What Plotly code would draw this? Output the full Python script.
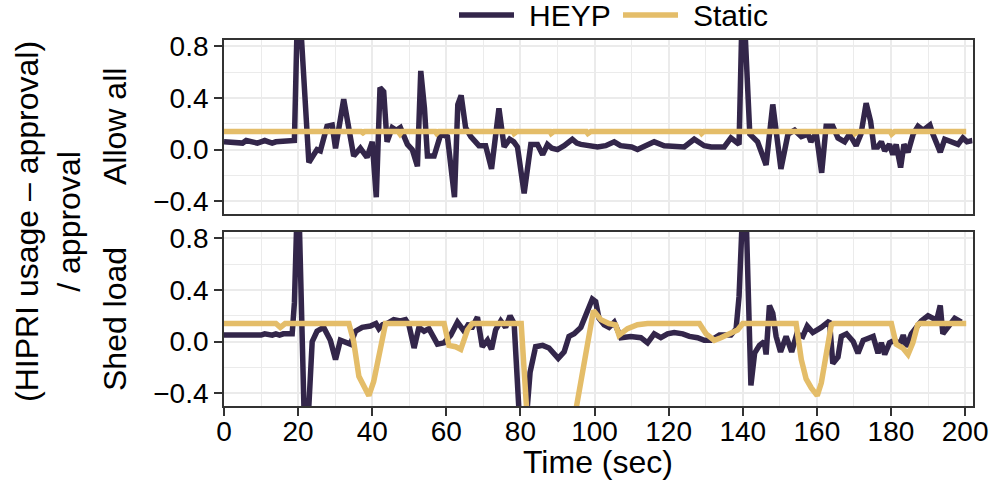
import plotly.graph_objects as go

# ---- data -------------------------------------------------------------
# "Allow all" facet
allow_heyp_t = [0, 1, 2, 3, 4, 5, 6, 7, 8, 9, 10, 11, 12, 13, 14, 15, 16, 17, 18, 19,
                20, 22.9, 24, 25.1, 26, 27.8, 29.2, 30.1, 32.3, 35, 36.8, 38.6, 40,
                41.1, 42.1, 43.1, 44, 45.4, 46.5, 47.6, 49.5, 50.8, 52.2, 53.1, 54.1,
                54.9, 56.7, 58.5, 60.3, 62.2, 63.1, 64, 65.2, 66.6, 68.8, 70.6, 72.2,
                74.2, 75.6, 77.1, 78.2, 79.2, 81, 82.8, 84.6, 86, 87.3, 88.5, 90,
                91.8, 94, 95.2, 96.3, 98, 100.8, 103, 105.3, 107, 108.9, 110, 111.6,
                113.5, 116.1, 118.8, 121, 124.2, 126.9, 129.6, 131.5, 133.2, 135,
                136.8, 138.6, 139, 140, 141.9, 144, 146.3, 148.1, 149, 150.3, 152.2,
                154, 155.8, 157.6, 158.4, 159.8, 161.3, 162.5, 164.3, 165.7, 167.5,
                168.8, 170.6, 171.9, 173.3, 174.5, 175.4, 176.4, 177.4, 178.3, 179.6,
                180.5, 181.4, 182.6, 183.5, 184.6, 186, 187.3, 188.7, 190.5, 191.3,
                191.8, 193.3, 194.5, 196.3, 198.1, 199.4, 200.5, 202]
allow_heyp_v = [0.06, 0.06, 0.05, 0.06, 0.06, 0.05, 0.07, 0.06, 0.06, 0.05, 0.06, 0.07,
                0.06, 0.05, 0.06, 0.06, 0.06, 0.06, 0.07, 0.07,
                1.30, -0.10, -0.05, 0.00, -0.01, 0.18, 0.19, 0.01, 0.39, -0.05, 0.01,
                -0.06, 0.06, -0.37, 0.48, 0.45, 0.06, 0.17, 0.15, 0.17, 0.04, 0.00,
                -0.13, 0.61, 0.32, -0.05, -0.05, 0.12, 0.10, -0.37, 0.35, 0.42, 0.17,
                0.10, 0.03, 0.03, -0.15, 0.32, 0.02, 0.08, 0.06, 0.02, -0.34, 0.04,
                0.04, -0.04, 0.04, 0.01, 0.00, 0.03, 0.08, 0.05, 0.04, 0.03, 0.02,
                0.03, 0.06, 0.03, 0.03, 0.02, 0.00, 0.03, 0.06, 0.03, 0.03, 0.02,
                0.08, 0.03, 0.02, 0.02, 0.02, 0.09, 0.05, 0.04, 1.30, 0.12, 0.06,
                -0.12, 0.35, 0.17, -0.15, 0.12, 0.15, 0.10, 0.12, 0.06, 0.13, -0.18,
                0.18, 0.18, 0.09, 0.06, 0.12, 0.03, 0.12, 0.36, 0.22, 0.02, 0.02,
                0.06, -0.01, 0.04, -0.04, 0.04, -0.14, 0.04, -0.02, 0.12, 0.18, 0.15,
                0.19, 0.12, 0.08, -0.02, 0.08, 0.06, 0.04, 0.09, 0.06, 0.07]

allow_static_t = [0, 16, 16.5, 17, 37, 37.5, 38, 47, 47.5, 48, 57, 57.4, 58, 78, 78.3,
                  79, 88, 88.3, 89, 97.8, 98.2, 99, 128.5, 128.9, 129.5, 170, 170.3,
                  171, 179.8, 180.2, 181, 200.3]
allow_static_v = [0.14, 0.14, 0.145, 0.14, 0.14, 0.13, 0.14, 0.14, 0.12, 0.14, 0.14,
                  0.125, 0.14, 0.14, 0.125, 0.14, 0.14, 0.125, 0.14, 0.14, 0.125,
                  0.14, 0.14, 0.125, 0.14, 0.14, 0.125, 0.14, 0.14, 0.12, 0.14, 0.14]

# "Shed load" facet
shed_heyp_t = [0, 1, 2, 3, 4, 5, 6, 7, 8, 9, 10, 11, 12, 13, 14, 15, 16, 17, 18.4, 19,
               20, 22, 23.8, 25.1, 26.9, 28.7, 30.1, 31.4, 32.8, 34.1, 35.5, 37.3,
               39.5, 41, 41.8, 42.8, 44, 45.8, 47.6, 49, 49.9, 51.3, 52.6, 54, 55.3,
               56.7, 57.6, 59.4, 61.2, 63, 64.8, 66.1, 66.8, 68.4, 69.7, 71.1, 72.2,
               73.3, 74.7, 76, 77.2, 78.3, 79.2, 80.5, 82.6, 84.1, 86, 87.7, 90.2,
               91.8, 93.1, 94.5, 96.3, 97.6, 99.4, 100.3, 101.2, 102.6, 103.9, 105.3,
               107.1, 109.8, 112.5, 114.3, 116.1, 117.9, 119.7, 121.5, 123.8, 125.6,
               127.8, 129.6, 131.4, 133.7, 136.8, 138.2, 139, 140.5, 142.2, 143.2,
               144.5, 145.8, 146.3, 147.2, 148.1, 149, 150.2, 151.7, 153.2, 154.6,
               156.2, 157.4, 158.9, 161.2, 163.4, 164.3, 165.7, 166.6, 168, 169.8,
               171.1, 172.5, 173.8, 175.2, 176.5, 177.4, 178.3, 179.6, 181, 182.4,
               183.3, 184.2, 185.5, 186.9, 188.2, 190, 191.4, 192.2, 193.3, 194,
               195.4, 197.2, 199]
shed_heyp_v = [0.05, 0.05, 0.04, 0.05, 0.05, 0.05, 0.05, 0.04, 0.05, 0.05, 0.05, 0.06,
               0.05, 0.05, 0.06, 0.05, 0.06, 0.06, 0.06, 0.30,
               1.30, -1.00, 0.00, 0.08, 0.11, 0.01, -0.14, 0.01, 0.00, -0.02, 0.08,
               0.11, 0.12, 0.14, 0.10, 0.13, 0.14, 0.17, 0.16, 0.17, 0.13, -0.05,
               0.11, 0.08, 0.10, 0.03, -0.02, -0.01, 0.05, 0.15, 0.08, 0.14, 0.10,
               0.19, -0.04, 0.01, -0.06, 0.09, 0.16, 0.11, 0.20, 0.14, -0.19, -1.00,
               -0.24, -0.04, -0.03, -0.05, -0.13, -0.08, 0.04, 0.06, 0.11, 0.20,
               0.33, 0.31, 0.18, 0.13, 0.11, 0.15, 0.03, 0.04, 0.03, -0.01, 0.06,
               0.03, 0.06, 0.07, 0.06, 0.04, 0.03, 0.01, 0.01, 0.05, 0.05, 0.10,
               0.35, 1.40, -0.34, -0.09, -0.03, 0.00, -0.10, 0.28, 0.22, 0.04,
               -0.08, 0.04, -0.08, 0.06, 0.04, 0.12, 0.07, 0.11, 0.16, -0.17, -0.12,
               0.04, 0.06, 0.00, -0.09, 0.01, 0.03, 0.04, -0.09, -0.01, -0.10,
               -0.01, 0.01, -0.02, 0.05, -0.04, 0.06, 0.11, 0.16, 0.20, 0.18, 0.15,
               0.28, 0.06, 0.11, 0.18, 0.15]

shed_static_t = [0, 14, 15.2, 16.5, 33.7, 35, 36.4, 37.7, 39.1, 40.4, 42.1, 43.6, 59.4,
                 60.7, 62.5, 63.9, 65.7, 67, 80.2, 82.5, 93, 99.7, 101.7, 103.9, 105.7,
                 106.6, 108.9, 111.6, 114.3, 128.3, 130.1, 132.3, 134.1, 136.8, 138.6,
                 140, 154.4, 155.8, 157.1, 158.5, 160.1, 161.2, 162.5, 163.9, 164.5,
                 180.1, 181.4, 183.2, 184.6, 185.9, 187.2, 187.8, 200.3]
shed_static_v = [0.14, 0.14, 0.11, 0.14, 0.14, 0.00, -0.27, -0.34, -0.42, -0.31, -0.07,
                 0.14, 0.14, -0.03, -0.04, -0.06, 0.09, 0.14, 0.14, -0.90, -0.85,
                 0.24, 0.17, 0.14, 0.13, 0.05, 0.10, 0.13, 0.14, 0.14, 0.06, 0.01,
                 0.03, 0.06, 0.09, 0.14, 0.14, -0.14, -0.29, -0.36, -0.42, -0.32,
                 -0.12, 0.13, 0.14, 0.14, -0.02, -0.05, -0.10, -0.01, 0.13, 0.14, 0.14]

x_ticks = [0, 20, 40, 60, 80, 100, 120, 140, 160, 180, 200]
y_ticks = [-0.4, 0.0, 0.4, 0.8]
y_ticktext = ["\u22120.4", "0.0", "0.4", "0.8"]
facet_labels = ["Allow all", "Shed load"]
legend_names = ["HEYP", "Static"]

# ---- style ------------------------------------------------------------
HEYP_COLOR = "#33264a"
STATIC_COLOR = "#e4bd69"
GRID = "#ebebeb"
BORDER = "#333333"
FONT = "Liberation Sans, Arial, sans-serif"
W, H = 993, 482
LINE_W = 5.5

x_dom = [224 / W, 972.5 / W]
top_dom = [(H - 214) / H, (H - 40) / H]
bot_dom = [(H - 406) / H, (H - 232) / H]
y_range = [-0.5, 0.85]

fig = go.Figure()

series = [
    (allow_heyp_t, allow_heyp_v, "HEYP", HEYP_COLOR, "x", "y"),
    (allow_static_t, allow_static_v, "Static", STATIC_COLOR, "x", "y"),
    (shed_heyp_t, shed_heyp_v, "HEYP", HEYP_COLOR, "x2", "y2"),
    (shed_static_t, shed_static_v, "Static", STATIC_COLOR, "x2", "y2"),
]
for t, v, name, color, xa, ya in series:
    fig.add_trace(go.Scatter(
        x=t, y=v, name=name, mode="lines", legendgroup=name, showlegend=False,
        line=dict(color=color, width=LINE_W, shape="linear"),
        xaxis=xa, yaxis=ya, hoverinfo="skip",
    ))

common_x = dict(
    range=[0, 202], showgrid=True, gridcolor=GRID, gridwidth=2, zeroline=False,
    showline=True, mirror=True, linecolor=BORDER, linewidth=1.8,
    tickvals=x_ticks, automargin=False,
    minor=dict(tickvals=[10, 30, 50, 70, 90, 110, 130, 150, 170, 190],
               showgrid=True, gridcolor=GRID, gridwidth=1.2),
)
common_y = dict(
    range=y_range, showgrid=True, gridcolor=GRID, gridwidth=2, zeroline=False,
    showline=True, mirror=True, linecolor=BORDER, linewidth=1.8,
    tickvals=y_ticks, ticktext=y_ticktext, ticks="outside", ticklen=8,
    tickwidth=1.8, tickcolor=BORDER, tickfont=dict(size=28, color="#000000"),
    automargin=False,
    minor=dict(tickvals=[-0.2, 0.2, 0.6], showgrid=True, gridcolor=GRID,
               gridwidth=1.2),
)

fig.update_layout(
    width=W, height=H, template="none",
    paper_bgcolor="white", plot_bgcolor="white",
    margin=dict(l=0, r=0, t=0, b=0, autoexpand=False),
    font=dict(family=FONT, color="#000000"),
    xaxis=dict(common_x, domain=x_dom, anchor="y", showticklabels=False,
               ticks=""),
    yaxis=dict(common_y, domain=top_dom, anchor="x"),
    xaxis2=dict(common_x, domain=x_dom, anchor="y2", matches="x",
                ticks="outside", ticklen=8, tickwidth=1.8, tickcolor=BORDER,
                ticklabelstandoff=-9,
                tickfont=dict(size=28, color="#000000")),
    yaxis2=dict(common_y, domain=bot_dom, anchor="x2"),
    showlegend=False,
)

# Legend key drawn along the top edge: a line sample followed by its label.
legend_y = 1 - 15 / H
shapes = []
annotations = []
for name, color, x0 in zip(legend_names, [HEYP_COLOR, STATIC_COLOR], [459, 623]):
    shapes.append(dict(type="line", xref="paper", yref="paper",
                       x0=x0 / W, x1=(x0 + 55) / W, y0=legend_y, y1=legend_y,
                       line=dict(color=color, width=LINE_W)))
    annotations.append(dict(text=name, x=(x0 + 68) / W, y=legend_y,
                            xref="paper", yref="paper", xanchor="left",
                            yanchor="middle", showarrow=False,
                            font=dict(size=30)))

annotations += [
    dict(text="(HIPRI usage \u2013 approval)<br>/ approval", textangle=-90,
         x=48 / W, y=1 - 222 / H, xref="paper", yref="paper",
         xanchor="center", yanchor="middle", showarrow=False,
         font=dict(size=32), align="center"),
    dict(text="Time (sec)", x=598 / W, y=1 - 462 / H, xref="paper",
         yref="paper", xanchor="center", yanchor="middle", showarrow=False,
         font=dict(size=32)),
]
for label, dom in zip(facet_labels, [top_dom, bot_dom]):
    annotations.append(dict(
        text=label, textangle=-90, x=115 / W, y=(dom[0] + dom[1]) / 2,
        xref="paper", yref="paper", xanchor="center", yanchor="middle",
        showarrow=False, font=dict(size=32)))
fig.update_layout(shapes=shapes, annotations=annotations)

fig.write_html("out.html")
